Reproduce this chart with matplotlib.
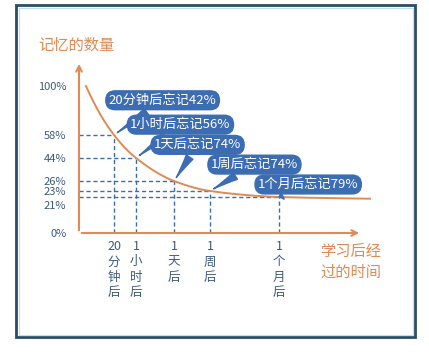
import numpy as np
import matplotlib
matplotlib.use('Agg')
import matplotlib.pyplot as plt
from matplotlib.patches import Rectangle
from matplotlib.transforms import ScaledTranslation

plt.rcParams['font.family'] = ['Noto Sans CJK SC', 'DejaVu Sans']

# data
stages = ['20\n分\n钟\n后', '1\n小\n时\n后', '1\n天\n后', '1\n周\n后', '1\n个\n月\n后']
hours = [1 / 3, 1, 24, 168, 720]
retained = [58, 44, 26, 23, 21]
bubble_text = ['20分钟后忘记42%', '1小时后忘记56%', '1天后忘记74%', '1周后忘记74%', '1个月后忘记79%']
curve_hours = [0, 1 / 3, 1, 24, 168, 720, 1440]
curve_retained = [100, 58, 44, 26, 23, 21, 20]
y_ticks = [0, 21, 23, 26, 44, 58, 100]

orange = '#e08a55'
blue = '#3c6db2'
navy = '#2a4d68'
label_col = '#3d5a80'

# the drawing is schematic, so both axes get a hand-made scale (value -> pixels)
x_anchor = np.array([0, 1 / 3, 1, 24, 168, 720, 1440])
x_px = np.array([7, 35, 57, 95, 131, 200, 291])
y_anchor = np.array([0, 21, 23, 26, 44, 58, 100])
y_px = np.array([0, 36, 42, 52, 75, 98, 147])


def interp_ext(v, xp, fp):
    v = np.asarray(v, dtype=float)
    out = np.interp(v, xp, fp)
    lo = v < xp[0]
    hi = v > xp[-1]
    out = np.where(lo, fp[0] + (v - xp[0]) * (fp[1] - fp[0]) / (xp[1] - xp[0]), out)
    out = np.where(hi, fp[-1] + (v - xp[-1]) * (fp[-1] - fp[-2]) / (xp[-1] - xp[-2]), out)
    return out


fx = (lambda v: interp_ext(v, x_anchor, x_px), lambda p: interp_ext(p, x_px, x_anchor))
fy = (lambda v: interp_ext(v, y_anchor, y_px), lambda p: interp_ext(p, y_px, y_anchor))


def pchip(x, y, xs):
    # monotone cubic through the points, just for drawing a smooth line
    x = np.asarray(x, float)
    y = np.asarray(y, float)
    h = np.diff(x)
    d = np.diff(y) / h
    m = np.zeros_like(y)
    for i in range(1, len(x) - 1):
        if d[i - 1] * d[i] > 0:
            w1 = 2 * h[i] + h[i - 1]
            w2 = h[i] + 2 * h[i - 1]
            m[i] = (w1 + w2) / (w1 / d[i - 1] + w2 / d[i])
    m[0] = d[0] * 1.3
    m[-1] = d[-1]
    idx = np.clip(np.searchsorted(x, xs) - 1, 0, len(h) - 1)
    t = (xs - x[idx]) / h[idx]
    h00 = 2 * t**3 - 3 * t**2 + 1
    h10 = t**3 - 2 * t**2 + t
    h01 = -2 * t**3 + 3 * t**2
    h11 = t**3 - t**2
    return h00 * y[idx] + h10 * h[idx] * m[idx] + h01 * y[idx + 1] + h11 * h[idx] * m[idx + 1]


fig = plt.figure(figsize=(4.29, 3.56), dpi=100)
fig.patch.set_facecolor('white')

W, H = 429, 356
ax_l, ax_b, ax_w, ax_h = 79, 233, 301, 175
ax = fig.add_axes([ax_l / W, 1 - ax_b / H, ax_w / W, ax_h / H])
ax.set_xscale('function', functions=fx)
ax.set_yscale('function', functions=fy)
ax.set_xlim(fx[1](0), fx[1](ax_w))
ax.set_ylim(fy[1](0), fy[1](ax_h))
for s in ax.spines.values():
    s.set_visible(False)
ax.patch.set_alpha(0)

# curve, smoothed in screen space
px = fx[0](curve_hours)
py = fy[0](curve_retained)
xs = np.linspace(px[0], px[-1], 300)
ys = pchip(px, py, xs)
ax.plot(fx[1](xs), fy[1](ys), color=orange, lw=1.4, clip_on=False, zorder=3)

# dashed guides
x0 = fx[1](0)
y0 = fy[1](0)
ax.hlines(retained, x0, hours, colors=blue, linestyles=(0, (3, 2)), lw=1)
ax.vlines(hours, y0, retained, colors=blue, linestyles=(0, (3, 2)), lw=1)

# axes arrows
ax.annotate('', xy=(283 / ax_w, 0), xytext=(0, 0), xycoords='axes fraction',
            arrowprops=dict(arrowstyle='->', color=orange, lw=1.5), zorder=4)
ax.annotate('', xy=(0, 172 / ax_h), xytext=(0, 0), xycoords='axes fraction',
            arrowprops=dict(arrowstyle='->', color=orange, lw=1.5), zorder=4)

ax.set_xticks(hours)
ax.set_xticklabels(stages, fontsize=9, color=label_col, linespacing=1.25, va='top')
ax.set_yticks(y_ticks)
ax.set_yticklabels([f'{v}%' for v in y_ticks], fontsize=8, color=label_col)
ax.tick_params(length=0, pad=9)
ax.tick_params(axis='x', pad=5)
# 21% is squeezed under 23%, nudge it down a little like the drawing
for lab in ax.get_yticklabels():
    if lab.get_text() == '21%':
        lab.set_transform(lab.get_transform() + ScaledTranslation(0, -6 / 72, fig.dpi_scale_trans))

# speech bubbles
offsets = [(35, 25), (32, 24), (17, 26), (32, 19), (21, 9)]
for h, r, txt, off in zip(hours, retained, bubble_text, offsets):
    ax.annotate(txt, xy=(h, r), xytext=off, textcoords='offset points',
                ha='center', va='center', fontsize=9.5, color='white',
                bbox=dict(boxstyle='round,pad=0.22,rounding_size=0.7', fc=blue, ec=blue),
                arrowprops=dict(arrowstyle='wedge,tail_width=0.6,shrink_factor=0.4',
                                fc=blue, ec=blue, shrinkB=3),
                zorder=5)

fig.text(38 / W, 1 - 45 / H, '记忆的数量', fontsize=11, color=orange, va='center', ha='left')
fig.text(320 / W, 1 - 243 / H, '学习后经\n过的时间', fontsize=11, color=orange,
         va='top', ha='left', linespacing=1.25)

# frame around everything
fig.patches.append(Rectangle((16 / W, 1 - 337 / H), 399 / W, 332 / H, transform=fig.transFigure,
                             fill=False, ec=navy, lw=2))
fig.patches.append(Rectangle((18.5 / W, 1 - 334.5 / H), 394 / W, 327 / H, transform=fig.transFigure,
                             fill=False, ec='#bfe0f0', lw=0.8))

fig.savefig('out.png', dpi=100)
